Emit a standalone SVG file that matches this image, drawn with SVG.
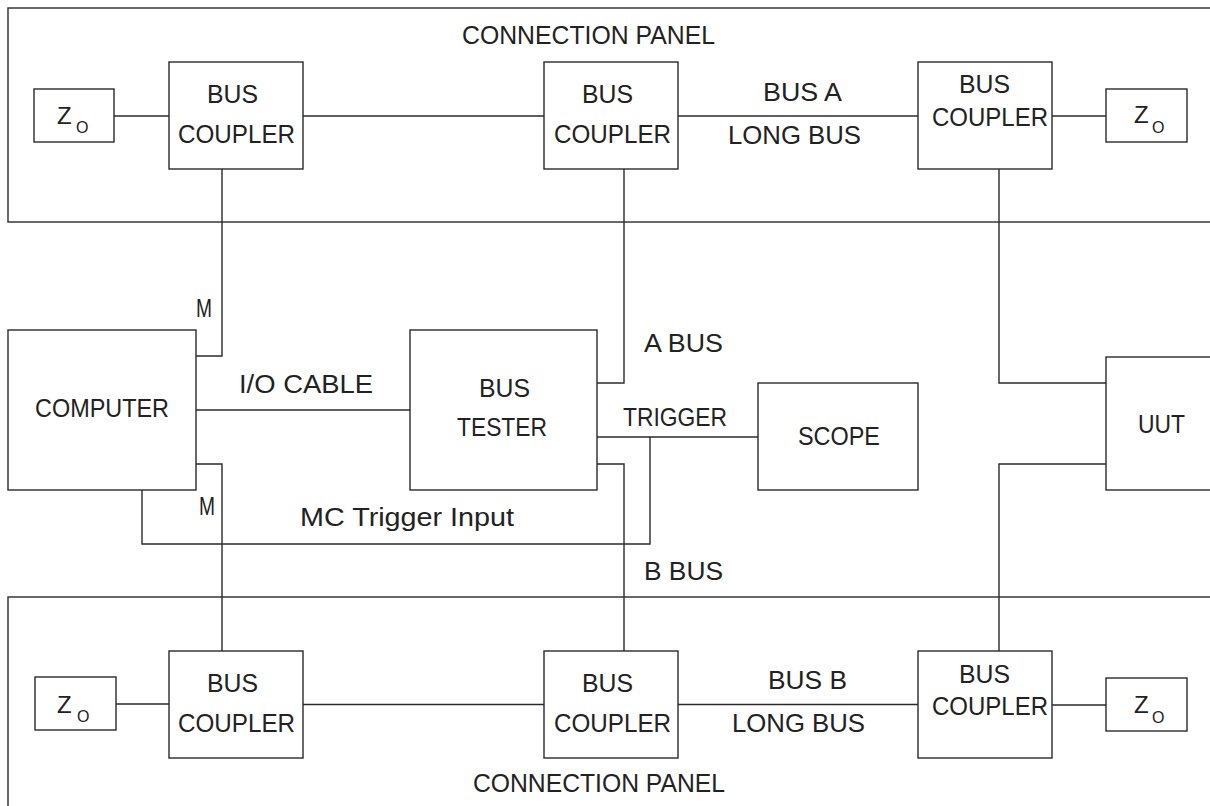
<svg xmlns="http://www.w3.org/2000/svg" width="1210" height="806" viewBox="0 0 1210 806">
<style>
.box{fill:none;stroke:#2a2a2a;stroke-width:1.4}
.wire{fill:none;stroke:#2a2a2a;stroke-width:1.4}
text{font-family:"Liberation Sans",Arial,sans-serif;font-size:26px;fill:#222}
.z{font-size:24px}
.sub{font-size:16px}
</style>
<rect width="1210" height="806" fill="#fff"/>
<g id="panel-top">
<rect class="box" x="8" y="8" width="1215" height="214"/>
<text x="462" y="44" textLength="253" lengthAdjust="spacingAndGlyphs">CONNECTION PANEL</text>
</g>
<g id="panel-bottom">
<rect class="box" x="8" y="597" width="1215" height="220"/>
<text x="473" y="792" textLength="252" lengthAdjust="spacingAndGlyphs">CONNECTION PANEL</text>
</g>
<g id="connectors">
<path class="wire" d="M114,116 H169"/>
<path class="wire" d="M303,116 H544"/>
<path class="wire" d="M678,116 H918"/>
<path class="wire" d="M1052,116 H1106"/>
<path class="wire" d="M222,169 V356 H196"/>
<path class="wire" d="M624,169 V383 H597"/>
<path class="wire" d="M999,169 V383 H1106"/>
<path class="wire" d="M196,410 H410"/>
<path class="wire" d="M597,437 H758"/>
<path class="wire" d="M142,490 V544 H650 V437"/>
<path class="wire" d="M196,464 H222 V651"/>
<path class="wire" d="M597,464 H624 V651"/>
<path class="wire" d="M1106,464 H999 V651"/>
<path class="wire" d="M116,704 H169"/>
<path class="wire" d="M303,704.5 H544"/>
<path class="wire" d="M678,704.5 H918"/>
<path class="wire" d="M1052,705 H1106"/>
<text x="763" y="101" textLength="79" lengthAdjust="spacingAndGlyphs">BUS A</text>
<text x="728" y="144" textLength="133" lengthAdjust="spacingAndGlyphs">LONG BUS</text>
<text x="196" y="317" textLength="16" lengthAdjust="spacingAndGlyphs">M</text>
<text x="199" y="515" textLength="16" lengthAdjust="spacingAndGlyphs">M</text>
<text x="239" y="393" textLength="134" lengthAdjust="spacingAndGlyphs">I/O CABLE</text>
<text x="300" y="526" textLength="214" lengthAdjust="spacingAndGlyphs">MC Trigger Input</text>
<text x="644" y="352" textLength="79" lengthAdjust="spacingAndGlyphs">A BUS</text>
<text x="623" y="426" textLength="104" lengthAdjust="spacingAndGlyphs">TRIGGER</text>
<text x="644" y="580" textLength="79" lengthAdjust="spacingAndGlyphs">B BUS</text>
<text x="768" y="689" textLength="79" lengthAdjust="spacingAndGlyphs">BUS B</text>
<text x="732" y="732" textLength="133" lengthAdjust="spacingAndGlyphs">LONG BUS</text>
</g>
<g id="z0-a1">
<rect class="box" x="34" y="89" width="80" height="53"/>
<text class="z" x="57" y="124">Z<tspan class="sub" x="76" y="133">O</tspan></text>
</g>
<g id="coupler-a1">
<rect class="box" x="169" y="62" width="134" height="107"/>
<text x="207" y="103" textLength="51" lengthAdjust="spacingAndGlyphs">BUS</text>
<text x="178" y="143" textLength="117" lengthAdjust="spacingAndGlyphs">COUPLER</text>
</g>
<g id="coupler-a2">
<rect class="box" x="544" y="62" width="134" height="107"/>
<text x="582" y="103" textLength="51" lengthAdjust="spacingAndGlyphs">BUS</text>
<text x="554" y="143" textLength="117" lengthAdjust="spacingAndGlyphs">COUPLER</text>
</g>
<g id="coupler-a3">
<rect class="box" x="918" y="62" width="134" height="107"/>
<text x="959" y="93" textLength="51" lengthAdjust="spacingAndGlyphs">BUS</text>
<text x="932" y="126" textLength="116" lengthAdjust="spacingAndGlyphs">COUPLER</text>
</g>
<g id="z0-a3">
<rect class="box" x="1106" y="89" width="81" height="53"/>
<text class="z" x="1134" y="123">Z<tspan class="sub" x="1152" y="133">O</tspan></text>
</g>
<g id="computer">
<rect class="box" x="8" y="330" width="188" height="160"/>
<text x="35" y="417" textLength="134" lengthAdjust="spacingAndGlyphs">COMPUTER</text>
</g>
<g id="bus-tester">
<rect class="box" x="410" y="330" width="187" height="160"/>
<text x="479" y="397" textLength="51" lengthAdjust="spacingAndGlyphs">BUS</text>
<text x="457" y="436" textLength="90" lengthAdjust="spacingAndGlyphs">TESTER</text>
</g>
<g id="scope">
<rect class="box" x="758" y="383" width="160" height="107"/>
<text x="798" y="445" textLength="82" lengthAdjust="spacingAndGlyphs">SCOPE</text>
</g>
<g id="uut">
<rect class="box" x="1106" y="357" width="115" height="133"/>
<text x="1138" y="433" textLength="47" lengthAdjust="spacingAndGlyphs">UUT</text>
</g>
<g id="z0-b1">
<rect class="box" x="35" y="677" width="81" height="53"/>
<text class="z" x="57" y="713">Z<tspan class="sub" x="77" y="722">O</tspan></text>
</g>
<g id="coupler-b1">
<rect class="box" x="169" y="651" width="134" height="107"/>
<text x="207" y="692" textLength="51" lengthAdjust="spacingAndGlyphs">BUS</text>
<text x="178" y="732" textLength="117" lengthAdjust="spacingAndGlyphs">COUPLER</text>
</g>
<g id="coupler-b2">
<rect class="box" x="544" y="651" width="134" height="107"/>
<text x="582" y="692" textLength="51" lengthAdjust="spacingAndGlyphs">BUS</text>
<text x="554" y="732" textLength="117" lengthAdjust="spacingAndGlyphs">COUPLER</text>
</g>
<g id="coupler-b3">
<rect class="box" x="918" y="651" width="134" height="107"/>
<text x="959" y="683" textLength="51" lengthAdjust="spacingAndGlyphs">BUS</text>
<text x="932" y="715" textLength="116" lengthAdjust="spacingAndGlyphs">COUPLER</text>
</g>
<g id="z0-b3">
<rect class="box" x="1106" y="678" width="81" height="53"/>
<text class="z" x="1134" y="713">Z<tspan class="sub" x="1152" y="723">O</tspan></text>
</g>
</svg>
